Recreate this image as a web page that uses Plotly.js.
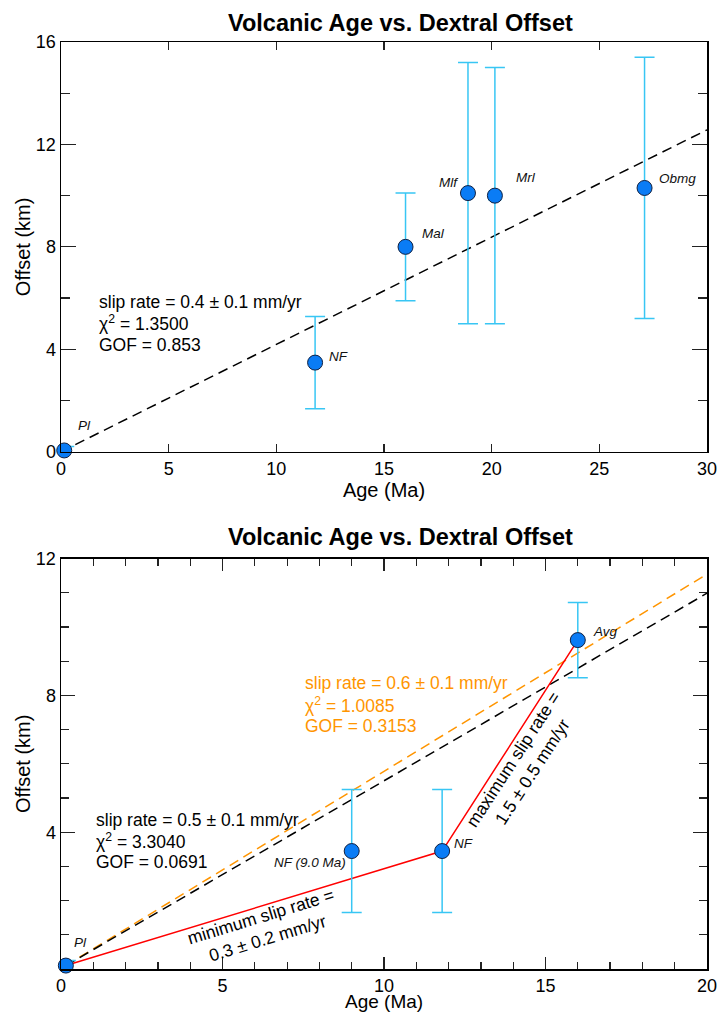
<!DOCTYPE html>
<html>
<head>
<meta charset="utf-8">
<script src="https://cdn.plot.ly/plotly-3.0.1.min.js"></script>
<style>html,body{margin:0;padding:0;background:#fff;}#chart{width:717px;height:1013px;}</style>
</head>
<body>
<div id="chart"></div>
<script>
// ---------- top panel data ----------
const topNames   = ['Pl', 'NF', 'Mal', 'Mlf', 'Mrl', 'Obmg'];
const topAge     = [0.15, 11.8, 16.0, 18.9, 20.15, 27.1];
const topAgeErr  = [0.2, 0.2, 0.2, 0.1, 0.27, 0.1];
const topOffset  = [0.05, 3.48, 8.0, 10.1, 10.0, 10.3];
const topOffErr  = [0.15, 1.8, 2.1, 5.1, 5.0, 5.1];
const topFitAge    = [0, 30];
const topFitOffset = [0, 12.57];
const topFitText = ['slip rate = 0.4 ± 0.1 mm/yr', 'χ<sup>2</sup> = 1.3500', 'GOF = 0.853'];

// ---------- bottom panel data ----------
const botNames   = ['Pl', 'NF (9.0 Ma)', 'NF', 'Avg'];
const botAge     = [0.15, 9.0, 11.8, 16.0];
const botAgeErr  = [0.2, 0.15, 0.15, 0.15];
const botOffset  = [0.1, 3.45, 3.45, 9.62];
const botOffErr  = [0.15, 1.8, 1.8, 1.1];
const blackFitAge    = [0.15, 20];
const blackFitOffset = [0.1, 10.99];
const orangeFitAge    = [0.15, 20];
const orangeFitOffset = [0.1, 11.55];
const redAge    = [0.15, 11.8, 16.0];
const redOffset = [0.1, 3.45, 9.62];
const blackFitText  = ['slip rate = 0.5 ± 0.1 mm/yr', 'χ<sup>2</sup> = 3.3040', 'GOF = 0.0691'];
const orangeFitText = ['slip rate = 0.6 ± 0.1 mm/yr', 'χ<sup>2</sup> = 1.0085', 'GOF = 0.3153'];
const minRateText = ['minimum slip rate =', '0.3 ± 0.2 mm/yr'];
const maxRateText = ['maximum slip rate =', '1.5 ± 0.5 mm/yr'];
const chartTitle = 'Volcanic Age vs. Dextral Offset';
const xTitle = 'Age (Ma)';
const yTitle = 'Offset (km)';

const FONT = 'Liberation Sans, Arial, Helvetica, sans-serif';
const ERRC = '#38c6f4';
const MARKC = '#0a7cf5';
const ORANGE = '#ff9500';
const DASH = '10px,6px';

function pointTrace(x, y, ex, ey, xa, ya) {
  return {
    x: x, y: y, xaxis: xa, yaxis: ya, type: 'scatter', mode: 'markers',
    cliponaxis: false,
    error_y: {type: 'data', array: ey, visible: true, color: ERRC, thickness: 1.5, width: 10},
    error_x: {type: 'data', array: ex, visible: true, color: ERRC, thickness: 1.2, width: 5},
    marker: {size: 15, color: MARKC, line: {color: '#102040', width: 1}},
    showlegend: false, hoverinfo: 'skip'
  };
}

const traces = [
  {x: topFitAge, y: topFitOffset, xaxis: 'x', yaxis: 'y', mode: 'lines',
   line: {color: '#000', width: 1.5, dash: DASH}, showlegend: false, hoverinfo: 'skip'},
  pointTrace(topAge, topOffset, topAgeErr, topOffErr, 'x', 'y'),
  {x: orangeFitAge, y: orangeFitOffset, xaxis: 'x2', yaxis: 'y2', mode: 'lines',
   line: {color: ORANGE, width: 1.5, dash: DASH}, showlegend: false, hoverinfo: 'skip'},
  {x: blackFitAge, y: blackFitOffset, xaxis: 'x2', yaxis: 'y2', mode: 'lines',
   line: {color: '#000', width: 1.5, dash: DASH}, showlegend: false, hoverinfo: 'skip'},
  {x: redAge, y: redOffset, xaxis: 'x2', yaxis: 'y2', mode: 'lines',
   line: {color: '#ff0000', width: 1.5}, showlegend: false, hoverinfo: 'skip'},
  pointTrace(botAge, botOffset, botAgeErr, botOffErr, 'x2', 'y2')
];

const axBase = {
  showgrid: false, zeroline: false, showline: true, linecolor: '#000', linewidth: 1.5,
  mirror: 'ticks', ticks: 'inside', tickcolor: '#222', tickwidth: 1.2,
  ticklabeloverflow: 'allow',
  tickfont: {family: FONT, size: 18, color: '#000'}
};

const labTop = [[0.7, 1.04, 'left'], [12.35, 3.7, 'left'], [16.67, 8.53, 'left'],
                [18.53, 10.53, 'right'], [21.04, 10.72, 'left'], [27.68, 10.68, 'left']];
const labBot = [[0.34, 0.78, 'left'], [8.87, 3.12, 'right'], [12.12, 3.68, 'left'], [16.4, 9.88, 'left']];

const annotations = [];
topNames.forEach((n, i) => annotations.push({
  xref: 'x', yref: 'y', x: labTop[i][0], y: labTop[i][1], xanchor: labTop[i][2], yanchor: 'middle',
  text: '<i>' + n + '</i>', showarrow: false, font: {family: FONT, size: 13.5, color: '#111'}
}));
botNames.forEach((n, i) => annotations.push({
  xref: 'x2', yref: 'y2', x: labBot[i][0], y: labBot[i][1], xanchor: labBot[i][2], yanchor: 'middle',
  text: '<i>' + n + '</i>', showarrow: false, font: {family: FONT, size: 13.5, color: '#111'}
}));
function block(lines, xref, yref, x, y, color) {
  lines.forEach((t, i) => annotations.push({
    xref: xref, yref: yref, x: x, y: y[i], xanchor: 'left', yanchor: 'middle',
    text: t, showarrow: false, font: {family: FONT, size: 17.5, color: color}
  }));
}
block(topFitText, 'x', 'y', 1.65, [5.86, 5.03, 4.17], '#000');
block(blackFitText, 'x2', 'y2', 1.02, [4.36, 3.74, 3.13], '#000');
block(orangeFitText, 'x2', 'y2', 7.5, [8.36, 7.72, 7.1], ORANGE);
annotations.push({xref: 'x2', yref: 'y2', x: 6.3, y: 1.22, text: minRateText.join('<br>'),
  textangle: -17, showarrow: false, font: {family: FONT, size: 17.5, color: '#000'}});
annotations.push({xref: 'x2', yref: 'y2', x: 14.3, y: 5.96, text: maxRateText.join('<br>'),
  textangle: -57, showarrow: false, font: {family: FONT, size: 17.5, color: '#000'}});
annotations.push({xref: 'paper', yref: 'paper', x: 0.525, y: 1.0205, yanchor: 'middle',
  text: '<b>' + chartTitle + '</b>', showarrow: false, font: {family: FONT, size: 23.5, color: '#000'}});
annotations.push({xref: 'paper', yref: 'paper', x: 0.525, y: 0.466, yanchor: 'middle',
  text: '<b>' + chartTitle + '</b>', showarrow: false, font: {family: FONT, size: 23.5, color: '#000'}});
// bottom x-axis title, placed just under the tick labels, inside the page
annotations.push({xref: 'paper', yref: 'paper', x: 0.5, y: -0.0472, yanchor: 'bottom', borderpad: 0,
  text: xTitle, showarrow: false, font: {family: FONT, size: 19, color: '#000'}});

const layout = {
  width: 717, height: 1013,
  margin: {l: 61, r: 10, t: 42, b: 44},
  paper_bgcolor: '#fff', plot_bgcolor: '#fff',
  font: {family: FONT, color: '#000'},
  showlegend: false,
  xaxis: Object.assign({}, axBase, {domain: [0, 1], anchor: 'y', range: [0, 30],
    tickmode: 'array', tickvals: [0, 5, 10, 15, 20, 25, 30], ticklen: 8,
    title: {text: xTitle, font: {family: FONT, size: 20}, standoff: 3}}),
  xaxis3: Object.assign({}, axBase, {overlaying: 'x', anchor: 'y', range: [0, 30],
    tickmode: 'array', tickvals: [10, 20], ticklen: 14, showticklabels: false}),
  yaxis: Object.assign({}, axBase, {domain: [0.558, 1], anchor: 'x', range: [0, 16],
    tickmode: 'array', tickvals: [0, 4, 8, 12, 16], ticklen: 15,
    minor: {dtick: 2, ticklen: 9, ticks: 'inside', tickcolor: '#222', tickwidth: 1.2},
    title: {text: yTitle, font: {family: FONT, size: 20}, standoff: 0}}),
  xaxis2: Object.assign({}, axBase, {domain: [0, 1], anchor: 'y2', range: [0, 20],
    tickmode: 'array', tickvals: [0, 5, 10, 15, 20], ticklen: 12,
    minor: {dtick: 1, ticklen: 7, ticks: 'inside', tickcolor: '#222', tickwidth: 1.2}}),
  yaxis2: Object.assign({}, axBase, {domain: [0, 0.4426], anchor: 'x2', range: [0, 12],
    tickmode: 'array', tickvals: [4, 8, 12], ticklen: 14,
    minor: {dtick: 1, ticklen: 8, ticks: 'inside', tickcolor: '#222', tickwidth: 1.2},
    title: {text: yTitle, font: {family: FONT, size: 20}, standoff: 0}}),
  annotations: annotations
};

Plotly.newPlot('chart', traces, layout, {staticPlot: true, displayModeBar: false});
</script>
</body>
</html>
